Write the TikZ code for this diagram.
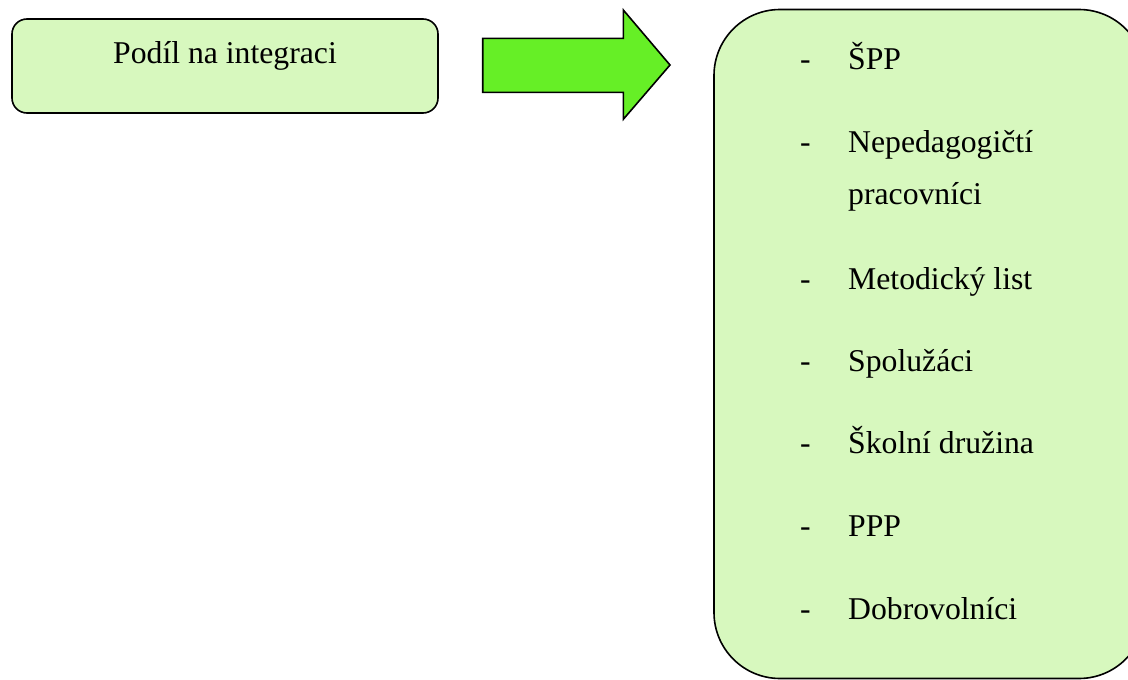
\documentclass[tikz,border=0pt]{standalone}
\usepackage{fontspec}
\setmainfont{Liberation Serif}
\definecolor{boxgreen}{RGB}{215,248,190}
\definecolor{arrowgreen}{RGB}{102,239,38}
\tikzset{
  panel/.style={draw=black, line width=1.6pt, fill=boxgreen},
  itemtext/.style={anchor=base west, inner sep=0pt, font=\fontsize{31.7}{38}\selectfont},
  dashmark/.style={anchor=base, inner sep=0pt, font=\fontsize{31.7}{38}\selectfont},
}
\begin{document}
\begin{tikzpicture}[x=1pt,y=-1pt]
\useasboundingbox (0,0) rectangle (1128,680);
\clip (0,0) rectangle (1128,680);
% left box
\draw[panel, rounded corners=15pt] (12,19) rectangle (438,113);
\node[anchor=base, inner sep=0pt, font=\fontsize{31.7}{38}\selectfont] (title) at (225,63) {Podíl na integraci};
% block arrow
\draw[draw=black, line width=1.6pt, fill=arrowgreen, line join=miter]
  (482.7,38.3) -- (623.3,38.3) -- (623.3,10) -- (670,65) -- (623.3,119.3) -- (623.3,92.3) -- (482.7,92.3) -- cycle;
% right box
\draw[panel, rounded corners=66pt] (714,9.5) rectangle (1145,678.5);
% items
\foreach \y/\t [count=\i] in {69/ŠPP, 152/Nepedagogičtí, 289/Metodický list, 371.7/Spolužáci, 453.3/Školní družina, 536.7/PPP, 619/Dobrovolníci}{
  \node[dashmark] (d\i) at (805.5,\y) {-};
  \node[itemtext] (t\i) at (848,\y) {\t};
}
\node[itemtext] (t2b) at (848,204) {pracovníci};
\end{tikzpicture}
\end{document}
